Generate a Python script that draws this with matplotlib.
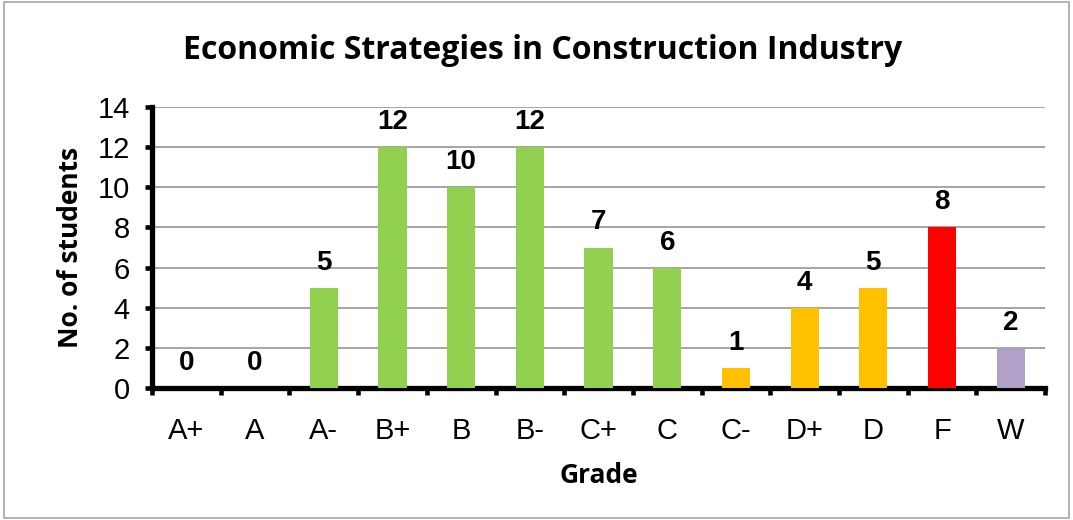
import numpy as np
import matplotlib.pyplot as plt
from matplotlib.patches import Rectangle

grades = ["A+", "A", "A-", "B+", "B", "B-", "C+", "C", "C-", "D+", "D", "F", "W"]
students = [0, 0, 5, 12, 10, 12, 7, 6, 1, 4, 5, 8, 2]
bar_colors = ["#92D050"] * 8 + ["#FFC000"] * 3 + ["#FF0000", "#B1A0C7"]

fig = plt.figure(figsize=(10.73, 5.2), dpi=100)
ax = fig.add_axes([0.1417, 0.2538, 0.8323, 0.5404])

x = np.arange(len(grades))
ax.bar(x, students, width=0.41, color=bar_colors, zorder=3)

for xi, v in zip(x, students):
    ax.text(xi, v + 0.6, str(v), ha="center", va="bottom",
            fontsize=20, fontweight="bold", family="Liberation Sans")

ax.set_xlim(-0.5, len(grades) - 0.5)
ax.set_ylim(0, 14)
ax.set_yticks(range(0, 15, 2))
ax.yaxis.grid(True, color="#969696", linewidth=1.2, zorder=0)
ax.set_axisbelow(True)

# category labels centred, tick marks between categories
ax.set_xticks(x)
ax.set_xticklabels(grades, fontsize=21, family="Liberation Sans")
ax.tick_params(axis="x", which="major", length=0, pad=21)
ax.set_xticks(np.arange(-0.5, len(grades)), minor=True)
ax.tick_params(axis="x", which="minor", length=5, width=3.3, direction="out")
ax.tick_params(axis="y", length=5, width=3.3, direction="out", labelsize=21, pad=11)
for lab in ax.get_yticklabels():
    lab.set_family("Liberation Sans")

for s in ["top", "right"]:
    ax.spines[s].set_visible(False)
for s in ["left", "bottom"]:
    ax.spines[s].set_linewidth(3.8)

ax.set_xlabel("Grade", fontsize=19, fontweight="bold", family="Open Sans", labelpad=12)
ax.set_ylabel("No. of students", fontsize=19, fontweight="bold", family="Open Sans", labelpad=10)
fig.text(0.506, 0.903, "Economic Strategies in Construction Industry",
         ha="center", va="center", fontsize=23, fontweight="bold", family="Open Sans")

fig.patches.append(Rectangle((0.004, 0.004), 0.992, 0.992, transform=fig.transFigure,
                             fill=False, edgecolor="#A6A6A6", linewidth=1.2))

fig.savefig("out.png", dpi=100)
